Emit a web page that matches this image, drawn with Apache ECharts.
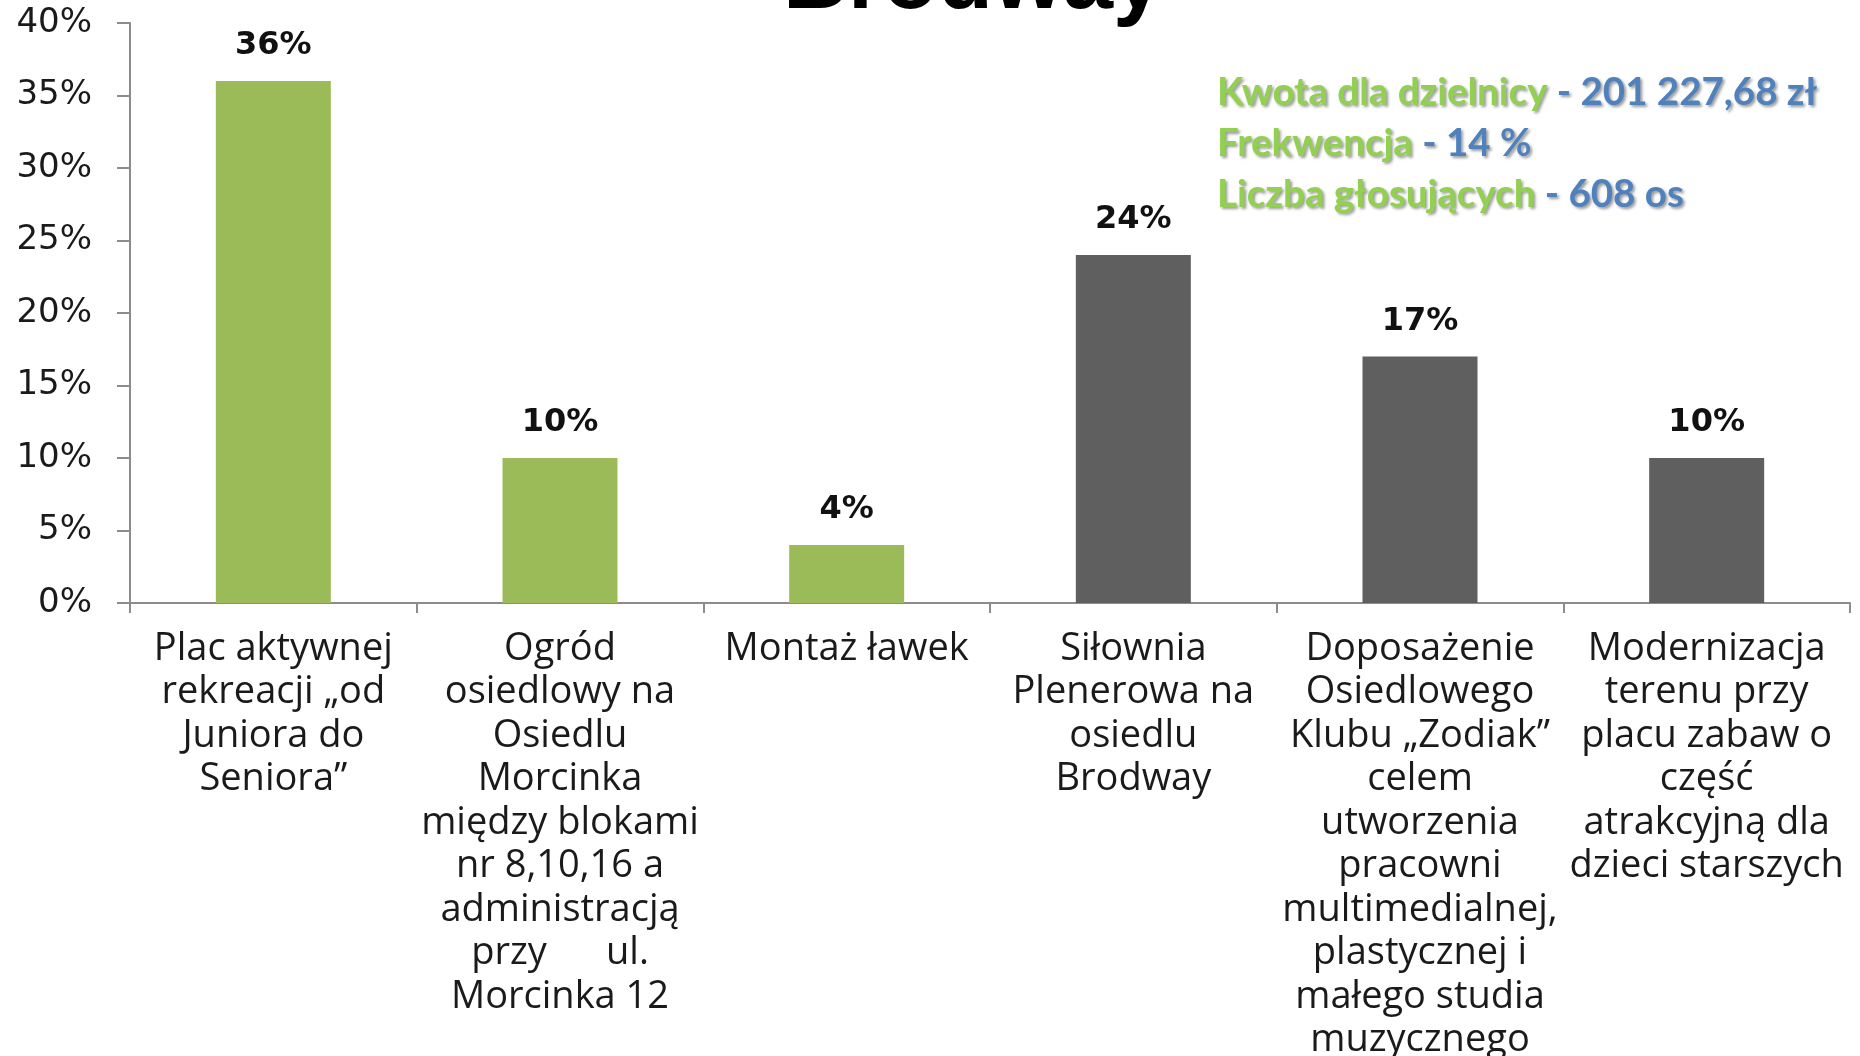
<!DOCTYPE html>
<html>
<head>
<meta charset="utf-8">
<style>html,body{margin:0;padding:0;background:#fff;}#c{width:1860px;height:1056px;}</style>
<script src="https://cdn.jsdelivr.net/npm/echarts@6/dist/echarts.min.js"></script>
</head>
<body>
<div id="c"></div>
<script>
const categories = [
  'Plac aktywnej\nrekreacji „od\nJuniora do\nSeniora”',
  'Ogród\nosiedlowy na\nOsiedlu\nMorcinka\nmiędzy blokami\nnr 8,10,16 a\nadministracją\nprzy      ul.\nMorcinka 12',
  'Montaż ławek',
  'Siłownia\nPlenerowa na\nosiedlu\nBrodway',
  'Doposażenie\nOsiedlowego\nKlubu „Zodiak”\ncelem\nutworzenia\npracowni\nmultimedialnej,\nplastycznej i\nmałego studia\nmuzycznego',
  'Modernizacja\nterenu przy\nplacu zabaw o\nczęść\natrakcyjną dla\ndzieci starszych'
];
const values = [36, 10, 4, 24, 17, 10];
const barGroups = ['green', 'green', 'green', 'gray', 'gray', 'gray'];
const yTicks = [0, 5, 10, 15, 20, 25, 30, 35, 40];
const titleText = 'Brodway';
const infoLabels = ['Kwota dla dzielnicy', 'Frekwencja', 'Liczba głosujących'];
const infoValues = ['201 227,68 zł', '14 %', '608 os'];

const colorMap = { green: '#9BBB59', gray: '#5F5F5F' };

const chart = echarts.init(document.getElementById('c'), null, { renderer: 'canvas' });

const shadow = { textShadowColor: 'rgba(0,0,0,0.4)', textShadowBlur: 3, textShadowOffsetX: 2, textShadowOffsetY: 2 };
const richInfo = {
  g: Object.assign({ fill: '#92D050', fontFamily: 'Lato', fontWeight: 'bold', fontSize: 38.5, lineHeight: 51 }, shadow),
  b: Object.assign({ fill: '#4F81BD', fontFamily: 'Lato', fontWeight: 'bold', fontSize: 38.5, lineHeight: 51 }, shadow)
};
const infoText = infoLabels.map((l, i) => '{g|' + l + '}{b| - ' + infoValues[i] + '}').join('\n');

chart.setOption({
  animation: false,
  grid: { left: 130, right: 10, top: 23, bottom: 453, containLabel: false, outerBoundsMode: 'none' },
  xAxis: {
    type: 'category',
    data: categories,
    axisLine: { lineStyle: { color: '#8C8C8C', width: 2 } },
    axisTick: { show: true, length: 10, lineStyle: { color: '#8C8C8C', width: 2 } },
    axisLabel: {
      interval: 0, margin: 24, color: '#1a1a1a',
      fontFamily: 'Open Sans', fontSize: 38, lineHeight: 43.5,
      align: 'center'
    }
  },
  yAxis: {
    type: 'value',
    min: yTicks[0], max: yTicks[yTicks.length - 1], interval: 5,
    axisLine: { show: true, lineStyle: { color: '#8C8C8C', width: 2 } },
    axisTick: { show: true, length: 13, lineStyle: { color: '#8C8C8C', width: 2 } },
    splitLine: { show: false },
    axisLabel: {
      margin: 38, color: '#1a1a1a', fontFamily: 'DejaVu Sans', fontSize: 34,
      formatter: '{value}%'
    }
  },
  series: [{
    type: 'bar',
    barWidth: 115,
    data: values.map((v, i) => ({ value: v, itemStyle: { color: colorMap[barGroups[i]] } })),
    label: {
      show: true, position: 'top', distance: 19,
      formatter: '{c}%', color: '#111', fontFamily: 'DejaVu Sans', fontWeight: 'bold', fontSize: 32
    }
  }],
  graphic: [
    {
      type: 'text', left: 783, top: -62, z: 10,
      style: {
        text: titleText, font: 'bold 90px "Liberation Sans", Arial', fill: '#000',
        shadowColor: 'rgba(0,0,0,0.5)', shadowBlur: 5, shadowOffsetX: 5, shadowOffsetY: 5
      }
    },
    {
      type: 'text', left: 1217, top: 73, z: 10,
      style: { text: infoText, rich: richInfo }
    }
  ]
});
</script>
</body>
</html>
